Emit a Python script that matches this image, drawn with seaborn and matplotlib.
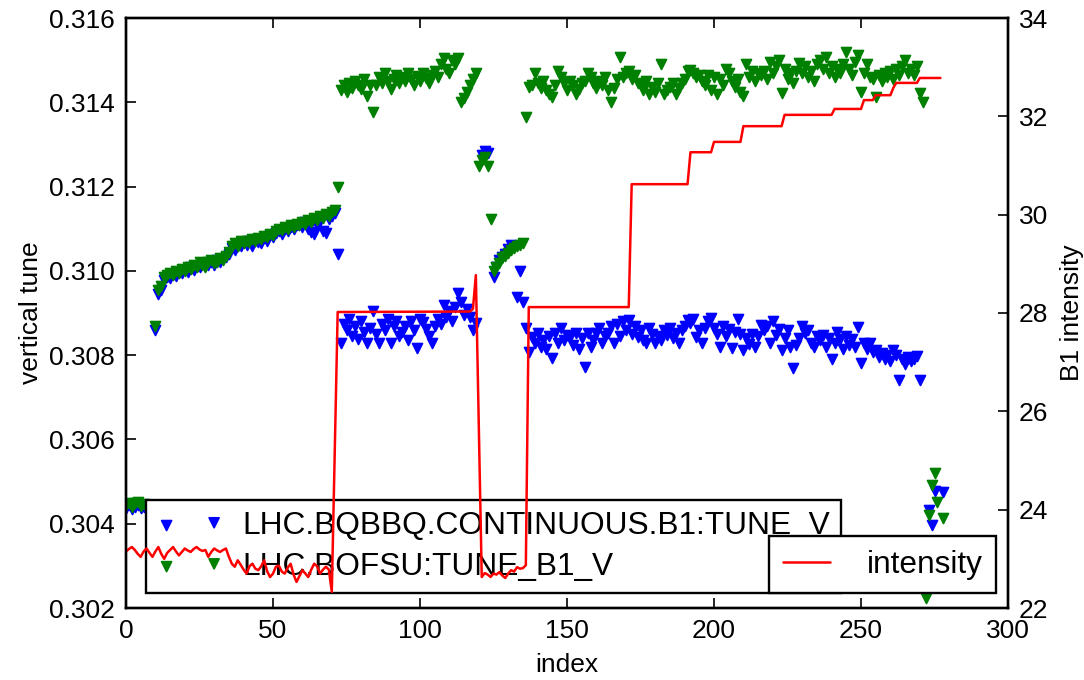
import numpy as np
import pandas as pd
import matplotlib
matplotlib.use('Agg')
import matplotlib.pyplot as plt
import seaborn as sns

nan = np.nan

# tune readings, one per index 0..278 (nan = no reading)
tune_index = np.arange(279)

tune_bofsu = [
    0.30445, 0.30450, 0.30440, 0.30448, 0.30452, 0.30443, 0.30447, nan, nan, nan,
    0.30870, 0.30955, 0.30965, 0.30985, 0.30990, 0.30995, 0.30990, 0.31000, 0.30995, 0.31005,
    0.31000, 0.31010, 0.31005, 0.31015, 0.31010, 0.31020, 0.31015, 0.31010, 0.31020, 0.31025,
    0.31018, 0.31022, 0.31030, 0.31025, 0.31035, 0.31045, 0.31060, 0.31065, 0.31058, 0.31070,
    0.31065, 0.31072, 0.31068, 0.31075, 0.31070, 0.31078, 0.31075, 0.31082, 0.31080, 0.31088,
    0.31085, 0.31095, 0.31100, 0.31098, 0.31105, 0.31100, 0.31110, 0.31105, 0.31112, 0.31108,
    0.31115, 0.31112, 0.31120, 0.31115, 0.31125, 0.31120, 0.31130, 0.31125, 0.31135, 0.31130,
    0.31140, 0.31145, 0.31200, 0.31430, 0.31440, 0.31425, 0.31445, 0.31435, 0.31450, 0.31440,
    0.31432, 0.31455, 0.31415, 0.31440, 0.31378, 0.31440, 0.31460, 0.31445, 0.31470, 0.31450,
    0.31432, 0.31455, 0.31465, 0.31445, 0.31460, 0.31450, 0.31470, 0.31455, 0.31440, 0.31462,
    0.31450, 0.31470, 0.31458, 0.31445, 0.31465, 0.31475, 0.31460, 0.31490, 0.31505, 0.31480,
    0.31470, 0.31500, 0.31490, 0.31505, 0.31400, 0.31410, 0.31425, 0.31440, 0.31455, 0.31470,
    0.31248, 0.31262, 0.31270, 0.31250, 0.31122, 0.31000, 0.31010, 0.31018, 0.31030, 0.31035,
    0.31042, 0.31050, 0.31055, 0.31060, 0.31062, 0.31066, 0.31365, 0.31436, 0.31440, 0.31470,
    0.31445, 0.31435, 0.31450, 0.31430, 0.31420, 0.31413, 0.31440, 0.31475, 0.31460, 0.31445,
    0.31430, 0.31450, 0.31440, 0.31420, 0.31432, 0.31445, 0.31450, 0.31470, 0.31460, 0.31445,
    0.31435, 0.31450, 0.31440, 0.31460, 0.31430, 0.31401, 0.31435, 0.31455, 0.31508, 0.31460,
    0.31470, 0.31475, 0.31455, 0.31465, 0.31445, 0.31440, 0.31430, 0.31450, 0.31420, 0.31437,
    0.31425, 0.31445, 0.31490, 0.31420, 0.31430, 0.31437, 0.31445, 0.31420, 0.31435, 0.31445,
    0.31455, 0.31475, 0.31477, 0.31470, 0.31460, 0.31465, 0.31450, 0.31440, 0.31465, 0.31430,
    0.31460, 0.31420, 0.31455, 0.31440, 0.31480, 0.31470, 0.31450, 0.31437, 0.31455, 0.31425,
    0.31415, 0.31490, 0.31460, 0.31475, 0.31450, 0.31470, 0.31465, 0.31475, 0.31455, 0.31495,
    0.31470, 0.31485, 0.31500, 0.31422, 0.31480, 0.31455, 0.31470, 0.31445, 0.31475, 0.31493,
    0.31470, 0.31485, 0.31460, 0.31475, 0.31450, 0.31490, 0.31500, 0.31480, 0.31508, 0.31470,
    0.31485, 0.31460, 0.31480, 0.31470, 0.31490, 0.31520, 0.31480, 0.31465, 0.31495, 0.31512,
    0.31424, 0.31470, 0.31490, 0.31460, 0.31455, 0.31412, 0.31465, 0.31450, 0.31470, 0.31460,
    0.31475, 0.31455, 0.31480, 0.31465, 0.31485, 0.31500, 0.31470, 0.31480, 0.31465, 0.31485,
    0.31422, 0.31400, 0.30224, 0.30421, 0.30492, 0.30520, 0.30452, nan, 0.30414,
]

tune_bqbbq = [
    0.30438, 0.30445, 0.30435, 0.30440, 0.30445, 0.30437, 0.30440, nan, nan, nan,
    0.30860, 0.30945, 0.30955, 0.30978, 0.30985, 0.30982, 0.30992, 0.30988, 0.30998, 0.30995,
    0.31002, 0.30998, 0.31008, 0.31002, 0.31012, 0.31008, 0.31018, 0.31012, 0.31015, 0.31022,
    0.31015, 0.31025, 0.31020, 0.31028, 0.31032, 0.31040, 0.31055, 0.31050, 0.31062, 0.31058,
    0.31068, 0.31062, 0.31070, 0.31060, 0.31072, 0.31068, 0.31065, 0.31078, 0.31072, 0.31085,
    0.31080, 0.31090, 0.31095, 0.31088, 0.31100, 0.31095, 0.31105, 0.31100, 0.31108, 0.31110,
    0.31105, 0.31115, 0.31100, 0.31092, 0.31088, 0.31110, 0.31118, 0.31095, 0.31090, 0.31122,
    0.31130, 0.31138, 0.31040, 0.30830, 0.30875, 0.30860, 0.30885, 0.30845, 0.30870, 0.30838,
    0.30880, 0.30855, 0.30830, 0.30865, 0.30905, 0.30850, 0.30830, 0.30875, 0.30860, 0.30885,
    0.30830, 0.30868, 0.30880, 0.30845, 0.30855, 0.30870, 0.30836, 0.30880, 0.30860, 0.30817,
    0.30885, 0.30878, 0.30862, 0.30845, 0.30830, 0.30868, 0.30885, 0.30875, 0.30920, 0.30890,
    0.30905, 0.30880, 0.30915, 0.30948, 0.30925, 0.30895, 0.30910, 0.30890, 0.30860, 0.30876,
    nan, 0.31275, 0.31285, 0.31280, nan, 0.30986, 0.31010, 0.31025, 0.31033, 0.31040,
    0.31052, 0.31062, 0.31058, 0.30938, 0.31000, 0.30925, 0.30865, 0.30808, 0.30844, 0.30828,
    0.30852, 0.30820, 0.30836, 0.30815, 0.30845, 0.30794, 0.30852, 0.30830, 0.30864, 0.30836,
    0.30848, 0.30844, 0.30825, 0.30852, 0.30815, 0.30840, 0.30773, 0.30852, 0.30820, 0.30835,
    0.30852, 0.30864, 0.30830, 0.30845, 0.30852, 0.30868, 0.30830, 0.30875, 0.30845, 0.30880,
    0.30860, 0.30884, 0.30850, 0.30868, 0.30844, 0.30860, 0.30836, 0.30828, 0.30864, 0.30850,
    0.30828, 0.30845, 0.30836, 0.30860, 0.30848, 0.30864, 0.30840, 0.30852, 0.30828, 0.30860,
    0.30870, 0.30884, 0.30876, 0.30885, 0.30844, 0.30860, 0.30828, 0.30864, 0.30880, 0.30887,
    0.30864, 0.30850, 0.30820, 0.30868, 0.30845, 0.30862, 0.30818, 0.30855, 0.30886, 0.30850,
    0.30812, 0.30840, 0.30826, 0.30850, 0.30820, 0.30845, 0.30872, 0.30860, 0.30868, 0.30830,
    0.30880, 0.30848, 0.30862, 0.30812, 0.30840, 0.30860, 0.30820, 0.30770, 0.30825, 0.30840,
    0.30868, 0.30852, 0.30860, 0.30830, 0.30820, 0.30845, 0.30836, 0.30848, 0.30820, 0.30840,
    0.30790, 0.30830, 0.30855, 0.30838, 0.30815, 0.30845, 0.30825, 0.30838, 0.30820, 0.30866,
    0.30782, 0.30828, 0.30815, 0.30830, 0.30808, 0.30812, 0.30796, 0.30805, 0.30790, 0.30800,
    0.30785, 0.30812, 0.30800, 0.30742, 0.30790, 0.30780, 0.30796, 0.30785, 0.30790, 0.30798,
    0.30740, nan, nan, 0.30433, 0.30397, 0.30478, nan, nan, 0.30475,
]

# beam intensity, vertices of the trace
intensity_index = list(range(0, 71)) + [
    72, 117, 118, 119, 121, 122, 123, 124, 125, 126, 127, 128, 129, 130, 131, 132, 133, 134,
    135, 136, 137, 171, 172, 191, 192, 199, 200, 209, 210, 223, 224, 240, 241, 250, 251, 254,
    255, 260, 261, 262, 269, 270, 277]
intensity_value = [
    23.15, 23.20, 23.24, 23.18, 23.10, 23.04, 23.15, 23.21, 23.12, 23.04,
    23.15, 23.24, 23.10, 23.00, 23.12, 23.18, 23.24, 23.15, 23.07, 23.14,
    23.21, 23.17, 23.14, 23.20, 23.24, 23.19, 23.16, 23.18, 23.04, 23.14,
    23.21, 23.17, 23.14, 23.18, 23.21, 23.04, 22.90, 22.84, 22.97, 22.88,
    22.78, 22.70, 22.85, 22.90, 22.80, 22.77, 22.85, 22.97, 22.75, 22.63,
    22.70, 22.84, 22.86, 22.74, 22.70, 22.82, 22.90, 22.68, 22.53, 22.65,
    22.77, 22.70, 22.63, 22.78, 22.90, 22.85, 22.70, 22.78, 22.84, 22.78,
    22.33,
    28.02, 28.03, 28.08, 28.77, 22.63, 22.71, 22.68, 22.63, 22.70, 22.68, 22.73, 22.66, 22.61,
    22.70, 22.77, 22.74, 22.83, 22.80, 22.81, 22.87, 28.12, 28.12, 30.62, 30.62, 31.27, 31.27,
    31.48, 31.48, 31.80, 31.80, 32.03, 32.03, 32.15, 32.15, 32.33, 32.33, 32.43, 32.43, 32.58,
    32.68, 32.68, 32.78, 32.78]

label_bqbbq = 'LHC.BQBBQ.CONTINUOUS.B1:TUNE_V'
label_bofsu = 'LHC.BOFSU:TUNE_B1_V'

BLUE, GREEN, RED = '#0000ff', '#008000', '#ff0000'

sns.set_theme(style='white', rc={
    'axes.linewidth': 1.7, 'axes.edgecolor': 'black', 'axes.labelcolor': 'black',
    'text.color': 'black', 'xtick.color': 'black', 'ytick.color': 'black'})
plt.rcParams['font.family'] = ['Liberation Sans', 'DejaVu Sans']

fig = plt.figure(figsize=(10.84, 6.8), dpi=100)
ax = fig.add_axes([126 / 1084, 72 / 680, 882 / 1084, 590 / 680])

sns.scatterplot(x=tune_index, y=tune_bqbbq, ax=ax, color=BLUE, marker='v', s=50,
                edgecolor=BLUE, linewidth=1.3, label=label_bqbbq, legend=False)
sns.scatterplot(x=tune_index, y=tune_bofsu, ax=ax, color=GREEN, marker='v', s=50,
                edgecolor=GREEN, linewidth=1.3, label=label_bofsu, legend=False)

ax.set_xlim(0, 300)
ax.set_ylim(0.302, 0.316)
ax.set_yticks(np.arange(0.302, 0.3161, 0.002))
ax.yaxis.set_major_formatter(matplotlib.ticker.FormatStrFormatter('%.3f'))
ax.set_xlabel('index', fontsize=19, labelpad=7)
ax.set_ylabel('vertical tune', fontsize=19)
ax.tick_params(direction='in', length=7, width=1.2, labelsize=19, pad=8,
               top=True, bottom=True, left=True, right=False)

leg1 = ax.legend(loc='lower left', bbox_to_anchor=(0.0227, 0.0254), borderaxespad=0,
                 scatterpoints=2, fontsize=22.8, fancybox=False, framealpha=1,
                 edgecolor='black', handlelength=2.1, handletextpad=0.6,
                 borderpad=0.35, labelspacing=0.35)
leg1.get_frame().set_linewidth(1.7)

ax2 = ax.twinx()
sns.lineplot(x=intensity_index, y=intensity_value, ax=ax2, color=RED, linewidth=1.8,
             sort=False, estimator=None, label='intensity', legend=False)
ax2.set_ylim(22, 34)
ax2.set_yticks(np.arange(22, 35, 2))
ax2.set_ylabel('B1 intensity', fontsize=19, labelpad=8)
ax2.tick_params(direction='in', length=7, width=1.2, labelsize=19, pad=8,
                right=True, left=False)
ax2.set_xlim(0, 300)

leg2 = ax2.legend(loc='lower right', bbox_to_anchor=(0.9864, 0.0254), borderaxespad=0,
                  fontsize=22.8, fancybox=False, framealpha=1, edgecolor='black',
                  handlelength=1.5, handletextpad=1.15, borderpad=0.42)
leg2.get_frame().set_linewidth(1.7)

fig.savefig('out.png', dpi=100, facecolor='white')
